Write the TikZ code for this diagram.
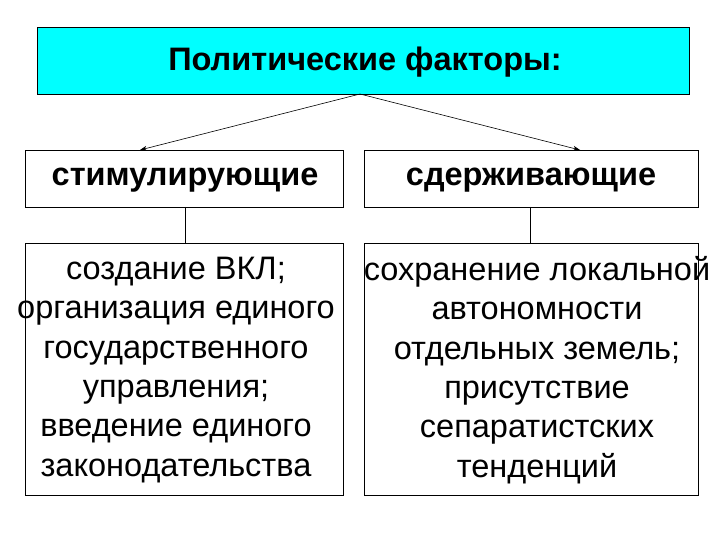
\documentclass[tikz,border=0pt]{standalone}
\usepackage{fontspec}
\setmainfont{Liberation Sans}
\usetikzlibrary{arrows.meta}
\begin{document}
\begin{tikzpicture}[x=1pt,y=-1pt,
  box/.style={draw=black, line width=0.6pt, anchor=north west, inner sep=0pt},
  conn/.style={line width=0.6pt, -{Stealth[length=7pt,width=5pt]}},
  ln/.style={line width=0.6pt},
  body/.style={align=center, inner sep=0pt, font=\fontsize{32.5}{39.3}\selectfont}]
\useasboundingbox (0,0) rectangle (720,540);
\node[box, fill={rgb,255:red,0;green,255;blue,255}, minimum width=652pt, minimum height=67pt] (top) at (37,27) {};
\node[font=\fontsize{32.5}{36}\selectfont\bfseries] (tt) at (365,62) {Политические факторы:};
\node[box, minimum width=318pt, minimum height=57pt] (l) at (25,150) {};
\node[box, minimum width=334pt, minimum height=57pt] (r) at (364,150) {};
\node[font=\fontsize{32.5}{36}\selectfont\bfseries] (lt) at (185,180) {стимулирующие};
\node[font=\fontsize{32.5}{36}\selectfont\bfseries] (rt) at (531,180) {сдерживающие};
\node[box, minimum width=318pt, minimum height=252pt] (lb) at (25,243) {};
\node[box, minimum width=334pt, minimum height=252pt] (rb) at (364,243) {};
\node[body] (lbt) at (176,370) {создание ВКЛ;\\организация единого\\государственного\\управления;\\введение единого\\законодательства};
\node[body] (rbt) at (537,370) {сохранение локальной\\автономности\\отдельных земель;\\присутствие\\сепаратистских\\тенденций};
\coordinate (tp) at (360,94);
\coordinate (la) at (140,150);
\coordinate (ra) at (580,150);
\draw[conn] (tp) -- (la);
\draw[conn] (tp) -- (ra);
\draw[ln] (185,207) -- (185,243);
\draw[ln] (530,207) -- (530,243);
\end{tikzpicture}
\end{document}
